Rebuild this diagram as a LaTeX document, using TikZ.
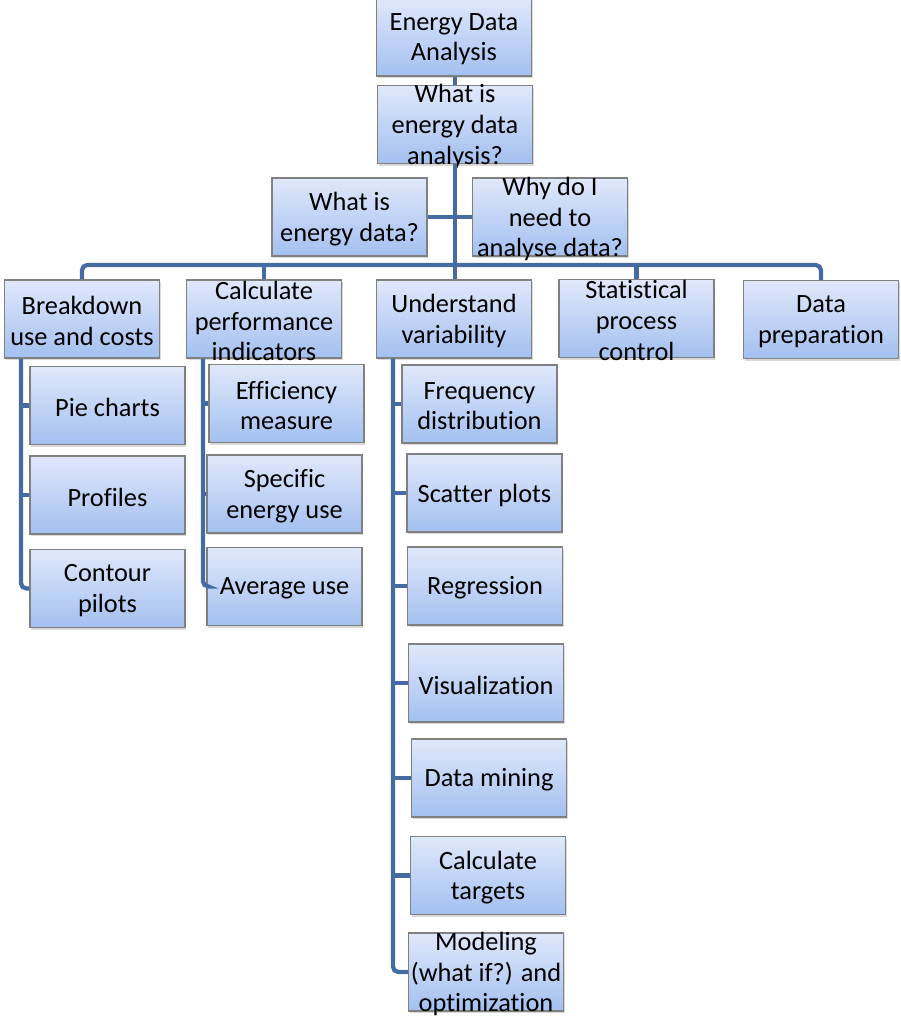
\documentclass[tikz,border=0pt]{standalone}
\usepackage{fontspec}
\setmainfont{Carlito}[Ligatures=CommonOff]
\usetikzlibrary{shadows}
\definecolor{boxtop}{RGB}{224,232,251}
\definecolor{boxbottom}{RGB}{163,192,240}
\definecolor{boxline}{RGB}{128,128,128}
\definecolor{linkblue}{RGB}{68,108,163}
\newcommand\BoxText[1]{%
    \parbox[c][1.56cm][c]{3.1cm}{\vspace*{2.4pt}\centering #1}%
}

\begin{document}
\begin{tikzpicture}[x=0.02cm,y=-0.02cm,
    box/.style={draw=boxline, line width=0.6pt, top color=boxtop, bottom color=boxbottom,
        inner sep=0pt, font=\fontsize{15}{17.5}\selectfont,
        drop shadow={shadow xshift=0.8pt, shadow yshift=-1.3pt, opacity=0.3}},
    link/.style={draw=linkblue, line width=2.4pt}]
    \useasboundingbox (0,0) rectangle (901,1016);
    % top of the tree
    \node[box] (root) at (454,37) {\BoxText{Energy Data\\Analysis}};
    \node[box] (q1) at (455,124.5) {\BoxText{What is\\energy data\\analysis?}};
    \node[box] (whatdata) at (349.5,217) {\BoxText{What is\\energy data?}};
    \node[box] (whyneed) at (550,217) {\BoxText{Why do I\\need to\\analyse data?}};
    % second level
    \node[box] (breakdown) at (82,319) {\BoxText{Breakdown\\use and costs}};
    \node[box] (calc) at (264,319) {\BoxText{Calculate\\performance\\indicators}};
    \node[box] (understand) at (454,319) {\BoxText{Understand\\variability}};
    \node[box] (spc) at (636.5,318.5) {\BoxText{Statistical\\process\\control}};
    \node[box] (dataprep) at (821,319.5) {\BoxText{Data\\preparation}};
    % breakdown
    \node[box] (pie) at (107.5,405.5) {\BoxText{Pie charts}};
    \node[box] (profiles) at (107.5,495) {\BoxText{Profiles}};
    \node[box] (contour) at (107.5,588.5) {\BoxText{Contour\\pilots}};
    % indicators
    \node[box] (efficiency) at (286.5,403.5) {\BoxText{Efficiency\\measure}};
    \node[box] (specific) at (284.5,494) {\BoxText{Specific\\energy use}};
    \node[box] (average) at (284.5,586.5) {\BoxText{Average use}};
    % variability
    \node[box] (freq) at (479.5,404) {\BoxText{Frequency\\distribution}};
    \node[box] (scatter) at (484.5,493) {\BoxText{Scatter plots}};
    \node[box] (regression) at (485,586) {\BoxText{Regression}};
    \node[box] (visual) at (486,683) {\BoxText{Visualization}};
    \node[box] (mining) at (489,778) {\BoxText{Data mining}};
    \node[box] (targets) at (488,875.5) {\BoxText{Calculate\\targets}};
    \node[box] (modeling) at (486,972) {\BoxText{Modeling\\(what if?) and\\optimization}};

    \coordinate (bar) at (455,265);
    \draw[link] (q1.north) -- (q1.north |- root.south);
    \draw[link] (q1.south) -- (q1.south |- understand.north);
    \draw[link] (whatdata.east) -- (whyneed.west);
    \draw[link,rounded corners=3pt] (breakdown.north) |- (bar) -| (dataprep.north);
    \draw[link] (calc.north) -- (calc.north |- bar);
    \draw[link] (spc.north) -- (spc.north |- bar);

    \coordinate (bspine) at ([xshift=0.34cm]breakdown.south west);
    \draw[link,rounded corners=3pt] (bspine) |- (contour.west);
    \draw[link] (pie.west) -- (pie.west -| bspine);
    \draw[link] (profiles.west) -- (profiles.west -| bspine);

    \coordinate (cspine) at ([xshift=0.34cm]calc.south west);
    \draw[link,rounded corners=3pt] (cspine) |- (average.west);
    \draw[link] (efficiency.west) -- (efficiency.west -| cspine);
    \draw[link] (specific.west) -- (specific.west -| cspine);

    \coordinate (uspine) at ([xshift=0.34cm]understand.south west);
    \draw[link,rounded corners=3pt] (uspine) |- (modeling.west);
    \draw[link] (freq.west) -- (freq.west -| uspine);
    \draw[link] (scatter.west) -- (scatter.west -| uspine);
    \draw[link] (regression.west) -- (regression.west -| uspine);
    \draw[link] (visual.west) -- (visual.west -| uspine);
    \draw[link] (mining.west) -- (mining.west -| uspine);
    \draw[link] (targets.west) -- (targets.west -| uspine);
\end{tikzpicture}
\end{document}
